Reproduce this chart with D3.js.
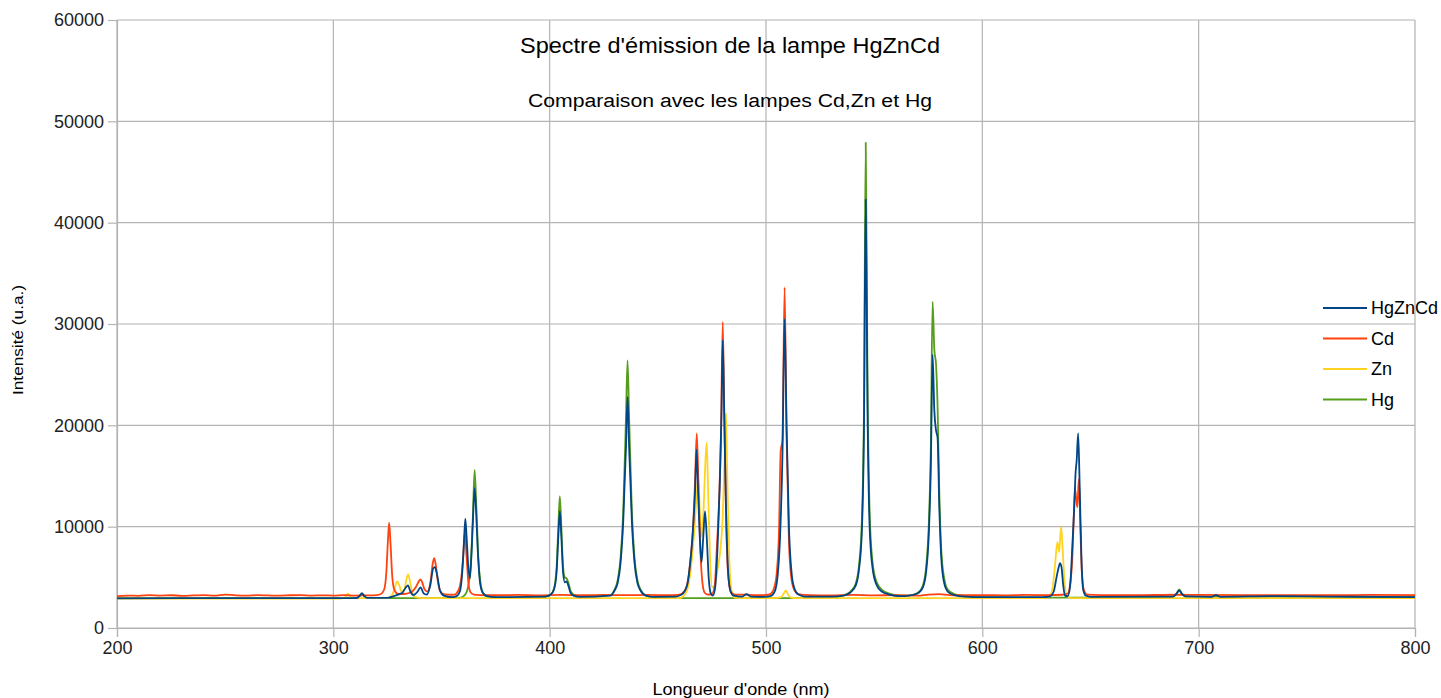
<!DOCTYPE html>
<html>
<head>
<meta charset="utf-8">
<script src="https://cdn.jsdelivr.net/npm/d3@7"></script>
<style>
  body { margin: 0; background: #fff; }
  svg text { font-family: "Liberation Sans", Arial, sans-serif; }
</style>
</head>
<body>
<div id="chart"></div>
<script>
"use strict";

// series names (same order as the legend)
var seriesNames = ["HgZnCd", "Cd", "Zn", "Hg"];
var xTicks = [200, 300, 400, 500, 600, 700, 800];
var yTicks = [0, 10000, 20000, 30000, 40000, 50000, 60000];

// [wavelength (nm), intensity (u.a.)]
var hgzncd = [
  [200,2920],[250,2950],[300,2950],[311,2960],[312.3,3200],[313.2,3450],[314.2,3200],[315.5,2980],
  [325,2980],[328,3150],[330.5,3350],[332,3500],[333.5,4000],[334.5,4200],[335.6,3600],[337,3250],
  [339,3600],[340.3,4000],[341.8,3400],[343.2,3300],[344.8,4200],[346.2,5900],[347,6000],[348,5200],
  [349.3,3700],[351,3200],[355,3050],[357,3150],[358.5,3600],[359.6,5500],[360.4,8500],[361,10800],
  [361.6,9000],[362.4,6000],[363.1,4900],[363.8,7000],[364.6,11000],[365.3,13800],[366,11500],
  [366.8,7500],[367.8,4500],[369,3500],[371,3150],[375,3050],[398,3100],[400.5,3300],[402,3800],
  [403.2,5500],[404,9000],[404.7,11500],[405.4,9000],[406.2,5500],[407,4500],[407.8,4600],[408.6,4200],
  [409.6,3500],[411,3200],[414,3080],[428,3200],[430,3700],[431.5,4500],[432.8,6500],[434,10500],
  [435.3,18000],[436,22800],[436.7,18000],[438,10500],[439.2,6500],[440.5,4500],[442,3700],[444.5,3200],
  [448,3080],[458,3100],[461,3300],[463.5,4200],[465,6500],[466,9000],[467.2,13500],[467.9,17600],
  [468.6,13500],[469.5,8500],[470.2,6500],[471,9000],[471.8,11500],[472.6,9000],[473.5,5000],
  [474.5,3400],[475.5,3200],[476.5,4000],[477.6,8000],[478.6,14000],[479.4,21000],[480,28400],
  [480.7,21000],[481.5,12000],[482.5,5500],[483.6,3600],[485,3200],[489,3100],[491,3350],[493,3100],
  [499,3080],[502,3150],[504,3600],[505.3,5000],[506.5,9000],[507.6,17000],[508.6,30500],[509.5,20000],
  [510.6,10000],[511.8,5500],[513,4000],[515,3300],[518,3100],[530,3100],[536,3200],[539,3500],
  [541.5,4200],[543,5800],[544.3,9500],[545.3,20000],[546.1,42300],[546.9,22000],[547.9,10000],
  [549.2,6000],[551,4300],[553.5,3600],[557,3300],[562,3150],[566,3200],[570,3400],[572.5,4000],
  [574,5500],[575.2,9000],[576.2,16000],[577,27000],[577.8,21500],[578.6,19500],[579.3,18800],
  [580.1,12000],[581,7000],[582.3,4500],[584,3600],[587,3250],[592,3100],[600,3050],[628,3050],
  [631,3100],[633,3600],[634.3,5000],[635.3,6000],[635.9,6400],[636.6,6000],[637.4,4200],[638.2,3200],
  [639.5,3150],[640.6,4200],[641.7,8500],[642.5,12000],[643.1,15300],[643.6,16500],[644.3,19200],
  [645,14000],[645.8,7000],[646.6,3800],[647.8,3200],[650,3080],[688,3100],[689.8,3400],[691,3700],
  [692.2,3400],[694,3120],[706,3080],[708,3250],[710,3080],[735,3150],[760,3100],[800,3050]
];

var cd = [
  [200,3150],[205,3200],[210,3180],[215,3250],[220,3200],[225,3230],[230,3180],[235,3210],
  [240,3250],[245,3200],[250,3300],[255,3220],[260,3200],[265,3240],[270,3210],[275,3190],
  [280,3230],[285,3250],[290,3200],[295,3220],[300,3200],[305,3240],[310,3200],[315,3220],
  [320,3250],[322,3350],[323.5,3800],[324.5,5500],[325.2,8500],[325.8,10400],[326.4,8500],
  [327.2,5200],[328,3900],[329.5,3400],[331,3350],[334,3400],[336.5,3600],[338.3,4100],[339.5,4600],
  [340.3,4800],[341.1,4500],[342.2,3800],[343.5,3600],[345,4700],[345.9,6300],[346.6,6900],
  [347.3,6300],[348.3,4600],[349.5,3600],[351,3350],[354,3280],[356,3300],[357.8,3700],[359,4700],
  [360,7000],[360.8,9500],[361.6,7000],[362.5,4300],[363.5,3500],[365,3300],[368,3250],[375,3230],
  [385,3260],[395,3220],[405,3260],[415,3230],[425,3260],[435,3240],[445,3260],[455,3230],
  [460,3300],[462.5,3700],[464,4800],[465.2,7000],[466.2,9500],[467.2,14500],[468,19200],
  [468.8,14000],[469.7,7500],[470.6,4500],[471.6,3500],[473,3300],[475,3350],[476.3,4200],
  [477.3,8000],[478.3,12500],[479.2,19000],[480,30200],[480.8,20000],[481.7,9500],[482.7,4800],
  [484,3500],[486,3280],[490,3300],[495,3230],[500,3260],[502,3350],[503.8,4000],[505,5500],
  [506,9500],[506.8,17500],[507.6,18500],[508.6,33600],[509.5,19000],[510.6,8500],[511.8,4800],
  [513.2,3700],[515,3350],[520,3250],[530,3220],[540,3260],[550,3220],[560,3240],[570,3200],
  [575,3300],[580,3350],[585,3250],[590,3230],[600,3250],[610,3220],[620,3260],[630,3240],
  [637,3280],[639.5,3400],[640.7,4500],[641.5,6500],[642.2,10500],[642.8,13800],[643.9,11900],
  [644.6,14700],[645.3,10000],[646,5500],[646.9,3800],[648.5,3300],[655,3250],[670,3230],
  [690,3280],[700,3260],[720,3240],[740,3250],[760,3230],[780,3260],[800,3250]
];

var zn = [
  [200,2900],[300,2900],[305,2950],[306.8,3400],[308.5,2950],[325,2950],[327,3200],[328.3,3900],
  [329.5,4600],[330.5,4200],[331.5,3600],[332.8,3800],[333.8,4800],[334.6,5300],[335.5,4500],
  [336.5,3500],[338,3050],[341,2950],[360,2950],[460,2950],[462.5,3300],[464.2,4300],[465.6,6500],
  [466.8,9500],[467.9,13000],[468.7,14900],[469.5,11000],[470.3,9000],[471.2,12000],[472,16500],
  [472.6,18300],[473.3,13000],[474.2,6500],[475.2,4000],[476.3,4200],[477.6,5800],[478.8,7500],
  [480,11000],[480.9,17000],[481.5,21200],[482.1,15000],[483,7000],[484,3800],[485.5,3000],
  [490,2950],[504,2950],[507,3050],[508.2,3400],[509.2,3700],[510.2,3300],[511.5,3000],[514,2950],
  [628,2950],[631,3100],[632.5,4000],[633.6,6200],[634.7,8500],[635.5,7500],[636.4,10000],
  [637.2,7500],[638,4500],[639,3200],[641,2950],[800,2950]
];

var hg = [
  [200,2950],[310,2950],[311.5,3050],[312.5,3250],[313.3,3350],[314.3,3100],[316,2950],[356,2950],
  [359,3000],[361,3300],[362.5,4300],[363.6,6500],[364.5,11000],[365.3,15600],[366.1,12000],
  [367,7000],[368,4500],[369.3,3400],[371,3100],[375,3000],[398,3050],[400.5,3300],[402,3900],
  [403.2,6000],[404,10000],[404.7,13000],[405.4,10000],[406.2,6000],[407,5000],[407.8,4900],
  [408.6,4500],[409.6,3700],[411,3300],[414,3100],[428,3250],[430,3800],[431.5,4800],[432.8,7000],
  [434,11500],[435.3,21000],[436,26400],[436.7,21000],[438,11500],[439.2,7000],[440.5,4800],
  [442,3800],[444.5,3200],[448,3050],[460,2950],[530,2950],[533,3050],[536,3250],[539,3600],
  [541.5,4400],[543,6200],[544.3,10500],[545.3,22000],[546.1,47900],[546.9,25000],[547.9,11500],
  [549.2,6600],[551,4600],[553.5,3800],[557,3400],[562,3200],[566,3200],[570,3450],[572.5,4200],
  [574,6000],[575.2,10000],[576.2,18000],[577,32200],[577.8,27500],[578.6,26000],[579.3,22000],
  [580.1,13500],[581,7800],[582.3,5000],[584,3800],[587,3350],[592,3150],[600,3050],[620,3000],
  [688,3050],[689.8,3400],[691,3800],[692.2,3400],[694,3100],[800,3050]
];

var seriesData = { HgZnCd: hgzncd, Cd: cd, Zn: zn, Hg: hg };

var width = 1441, height = 698;
var margin = { top: 20, right: 26, bottom: 70, left: 117 };
var w = width - margin.left - margin.right,
    h = height - margin.top - margin.bottom;

var colorSet = d3.scaleOrdinal()
  .domain(seriesNames)
  .range(["#004586", "#ff420e", "#ffd320", "#579d1c"]);

var x = d3.scaleLinear().domain([200, 800]).range([0, w]);
var y = d3.scaleLinear().domain([0, 60000]).range([h, 0]);

var svg = d3.select("#chart").append("svg")
  .attr("width", width)
  .attr("height", height);

var g = svg.append("g")
  .attr("transform", "translate(" + margin.left + "," + margin.top + ")");

// grid
g.append("g").selectAll("line").data(yTicks)
  .join("line")
    .attr("x1", 0).attr("x2", w)
    .attr("y1", d => y(d)).attr("y2", d => y(d))
    .attr("stroke", "#b3b3b3").attr("stroke-width", 1.2);
g.append("g").selectAll("line").data(xTicks)
  .join("line")
    .attr("x1", d => x(d)).attr("x2", d => x(d))
    .attr("y1", 0).attr("y2", h)
    .attr("stroke", "#b3b3b3").attr("stroke-width", 1.2);

// axes
var yAxis = g.append("g")
  .call(d3.axisLeft(y).tickValues(yTicks).tickSize(9).tickPadding(4).tickFormat(d3.format("d")));
var xAxis = g.append("g")
  .attr("transform", "translate(0," + h + ")")
  .call(d3.axisBottom(x).tickValues(xTicks).tickSize(9).tickPadding(4).tickFormat(d3.format("d")));
[yAxis, xAxis].forEach(function(a) {
  a.select(".domain").attr("stroke", "#b3b3b3").attr("stroke-width", 1.2);
  a.selectAll(".tick line").attr("stroke", "#b3b3b3").attr("stroke-width", 1.2);
  a.selectAll(".tick text").attr("fill", "#222").style("font-size", "18px");
});

// lines
var line = d3.line()
  .x(d => x(d[0]))
  .y(d => y(d[1]))
  .curve(d3.curveMonotoneX);

var drawOrder = ["Hg", "Zn", "Cd", "HgZnCd"];
var paths = g.append("g").attr("id", "paths-group");
drawOrder.forEach(function(name) {
  paths.append("path")
    .datum(seriesData[name])
    .attr("d", line)
    .attr("fill", "none")
    .attr("stroke", colorSet(name))
    .attr("stroke-width", 1.8)
    .attr("stroke-linejoin", "round");
});

// titles
svg.append("text")
  .attr("x", 730).attr("y", 53)
  .attr("text-anchor", "middle")
  .attr("textLength", 420).attr("lengthAdjust", "spacingAndGlyphs")
  .style("font-size", "22px")
  .text("Spectre d'émission de la lampe HgZnCd");
svg.append("text")
  .attr("x", 730).attr("y", 107)
  .attr("text-anchor", "middle")
  .attr("textLength", 404).attr("lengthAdjust", "spacingAndGlyphs")
  .style("font-size", "18px")
  .text("Comparaison avec les lampes Cd,Zn et Hg");

// axis titles
svg.append("text")
  .attr("x", 741).attr("y", 695)
  .attr("text-anchor", "middle")
  .attr("textLength", 177).attr("lengthAdjust", "spacingAndGlyphs")
  .style("font-size", "16px")
  .text("Longueur d'onde (nm)");
svg.append("text")
  .attr("transform", "translate(23,340) rotate(-90)")
  .attr("text-anchor", "middle")
  .attr("textLength", 110).attr("lengthAdjust", "spacingAndGlyphs")
  .style("font-size", "15px")
  .text("Intensité (u.a.)");

// legend
var legend = svg.append("g").attr("id", "legend-group");
legend.selectAll("line").data(seriesNames)
  .join("line")
    .attr("x1", 1323).attr("x2", 1367)
    .attr("y1", (d, i) => 308 + 30.5 * i)
    .attr("y2", (d, i) => 308 + 30.5 * i)
    .attr("stroke", d => colorSet(d))
    .attr("stroke-width", 2);
legend.selectAll("text").data(seriesNames)
  .join("text")
    .attr("x", 1371)
    .attr("y", (d, i) => 308 + 30.5 * i)
    .attr("dy", "0.35em")
    .style("font-size", "18px")
    .text(d => d);
</script>
</body>
</html>
